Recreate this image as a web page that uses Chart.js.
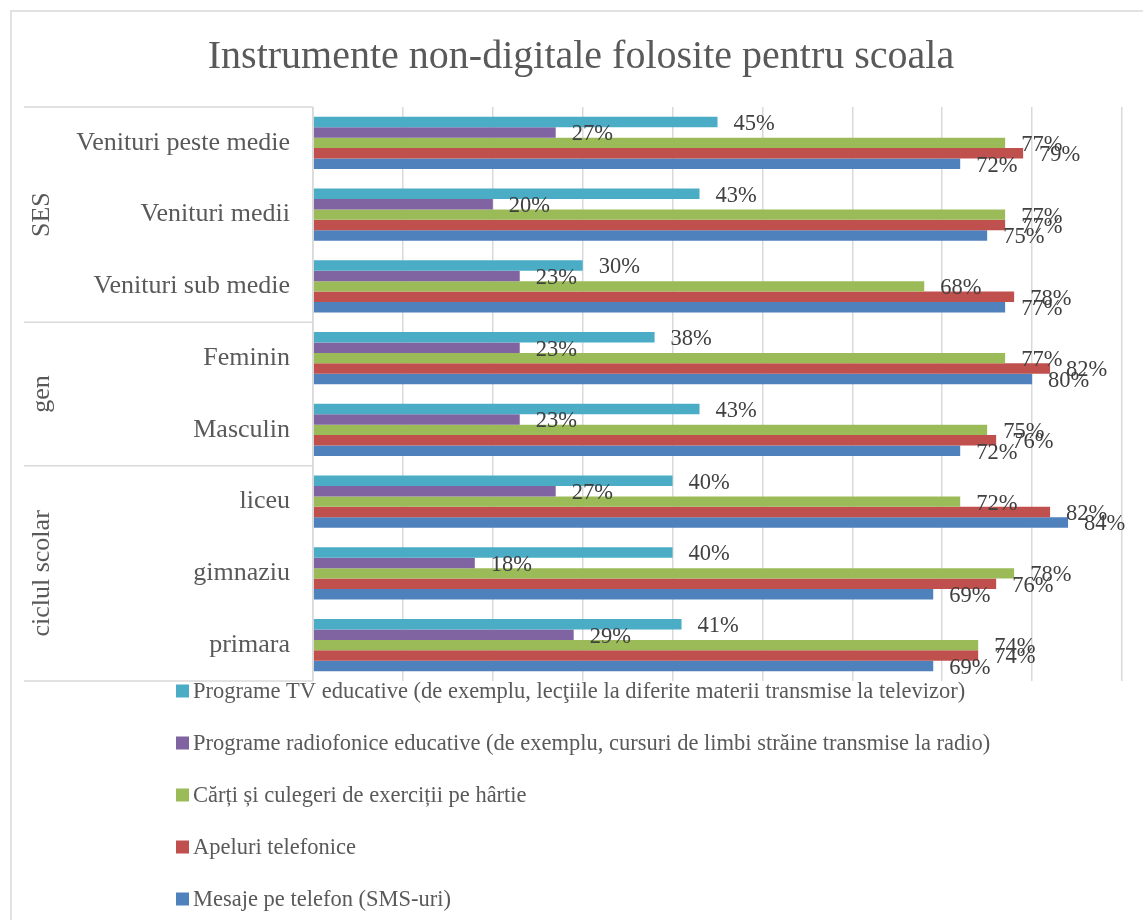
<!DOCTYPE html>
<html lang="ro">
<head>
<meta charset="utf-8">
<title>Instrumente non-digitale folosite pentru scoala</title>
<script src="https://cdn.jsdelivr.net/npm/chart.js@4.4.1/dist/chart.umd.min.js"></script>
<style>
  html, body { margin: 0; padding: 0; background: #fff; }
  canvas { display: block; }
</style>
</head>
<body>
<canvas id="chart" width="1143" height="920"></canvas>
<script>
const titlu = 'Instrumente non-digitale folosite pentru scoala';

const categorii = [
  'Venituri peste medie', 'Venituri medii', 'Venituri sub medie',
  'Feminin', 'Masculin',
  'liceu', 'gimnaziu', 'primara'
];

// grupuri pe axa de categorii: [eticheta, primul index, ultimul index]
const grupuri = [
  ['SES', 0, 2],
  ['gen', 3, 4],
  ['ciclul scolar', 5, 7]
];

const serii = [
  'Programe TV educative (de exemplu, lecţiile la diferite materii transmise la televizor)',
  'Programe radiofonice educative (de exemplu, cursuri de limbi străine transmise la radio)',
  'Cărți și culegeri de exerciții pe hârtie',
  'Apeluri telefonice',
  'Mesaje pe telefon (SMS-uri)'
];

const programeTv = [45, 43, 30, 38, 43, 40, 40, 41];
const programeRadio = [27, 20, 23, 23, 23, 27, 18, 29];
const cartiCulegeri = [77, 77, 68, 77, 75, 72, 78, 74];
const apeluriTelefonice = [79, 77, 78, 82, 76, 82, 76, 74];
const mesajeTelefon = [72, 75, 77, 80, 72, 84, 69, 69];

const culori = ['#4bacc6', '#8064a2', '#9bbb59', '#c0504d', '#4f81bd'];

const FONT = '"Liberation Serif", "Times New Roman", serif';
const GRI = '#d9d9d9';
const TEXT = '#595959';

const valori = [programeTv, programeRadio, cartiCulegeri, apeluriTelefonice, mesajeTelefon];

const fundalSiCadru = {
  id: 'fundalSiCadru',
  beforeDraw(chart) {
    const { ctx, width, height } = chart;
    ctx.save();
    ctx.fillStyle = '#fff';
    ctx.fillRect(0, 0, width, height);
    ctx.strokeStyle = GRI;
    ctx.lineWidth = 1.5;
    ctx.strokeRect(11, 11, width + 20, height + 20);
    ctx.restore();
  },
  afterDraw(chart) {
    const { ctx } = chart;
    ctx.save();
    ctx.fillStyle = TEXT;
    ctx.font = `40px ${FONT}`;
    ctx.textAlign = 'center';
    ctx.textBaseline = 'alphabetic';
    ctx.fillText(titlu, 581, 68);
    ctx.restore();
  }
};

// axa cu doua niveluri: linii de separare si etichetele de grup rotite
const axaGrupuri = {
  id: 'axaGrupuri',
  afterDraw(chart) {
    const { ctx, chartArea } = chart;
    const y = chart.scales.y;
    const stanga = 24;
    ctx.save();
    ctx.strokeStyle = GRI;
    ctx.lineWidth = 1.5;

    const limite = [chartArea.top];
    grupuri.forEach(([, , ultim], i) => {
      if (i < grupuri.length - 1) {
        limite.push((y.getPixelForValue(ultim) + y.getPixelForValue(ultim + 1)) / 2);
      }
    });
    limite.push(chartArea.bottom);

    ctx.beginPath();
    limite.forEach((py) => {
      ctx.moveTo(stanga, py);
      ctx.lineTo(chartArea.left, py);
    });
    ctx.moveTo(chartArea.left, chartArea.top);
    ctx.lineTo(chartArea.left, chartArea.bottom);
    ctx.stroke();

    ctx.fillStyle = TEXT;
    ctx.font = `26px ${FONT}`;
    ctx.textAlign = 'center';
    ctx.textBaseline = 'middle';
    grupuri.forEach(([eticheta], i) => {
      const mijloc = (limite[i] + limite[i + 1]) / 2;
      ctx.save();
      ctx.translate(42, mijloc);
      ctx.rotate(-Math.PI / 2);
      ctx.fillText(eticheta, 0, 0);
      ctx.restore();
    });
    ctx.restore();
  }
};

const eticheteValori = {
  id: 'eticheteValori',
  afterDatasetsDraw(chart) {
    const { ctx } = chart;
    ctx.save();
    ctx.fillStyle = '#404040';
    ctx.font = `22.5px ${FONT}`;
    ctx.textAlign = 'left';
    ctx.textBaseline = 'middle';
    chart.data.datasets.forEach((dataset, i) => {
      chart.getDatasetMeta(i).data.forEach((bar, j) => {
        ctx.fillText(`${dataset.data[j]}%`, bar.x + 16, bar.y + 2);
      });
    });
    ctx.restore();
  }
};

const legendaVerticala = {
  id: 'legendaVerticala',
  afterDraw(chart) {
    const { ctx } = chart;
    ctx.save();
    ctx.font = `22.5px ${FONT}`;
    ctx.textBaseline = 'middle';
    ctx.textAlign = 'left';
    chart.data.datasets.forEach((dataset, i) => {
      const cy = 691 + i * 52;
      ctx.fillStyle = dataset.backgroundColor;
      ctx.fillRect(176, cy - 6.5, 13, 13);
      ctx.fillStyle = TEXT;
      ctx.fillText(dataset.label, 193, cy + 1);
    });
    ctx.restore();
  }
};

new Chart(document.getElementById('chart'), {
  type: 'bar',
  data: {
    labels: categorii,
    datasets: serii.map((label, i) => ({
      label,
      data: valori[i],
      backgroundColor: culori[i],
      borderWidth: 0,
      categoryPercentage: 0.725,
      barPercentage: 1
    }))
  },
  options: {
    indexAxis: 'y',
    responsive: false,
    animation: false,
    devicePixelRatio: 1,
    layout: { padding: { top: 107, right: 21, bottom: 239, left: 0 } },
    plugins: {
      legend: { display: false },
      title: { display: false },
      tooltip: { enabled: false }
    },
    scales: {
      x: {
        min: 0,
        max: 90,
        ticks: { display: false, stepSize: 10 },
        grid: { color: GRI, lineWidth: 1.5, drawTicks: false },
        border: { display: false },
        afterFit(scale) { scale.height = 0; }
      },
      y: {
        grid: { display: false },
        border: { display: false },
        ticks: {
          color: TEXT,
          padding: 15,
          font: { family: FONT, size: 26 }
        },
        afterFit(scale) { scale.width = 313; }
      }
    }
  },
  plugins: [fundalSiCadru, axaGrupuri, eticheteValori, legendaVerticala]
});
</script>
</body>
</html>
